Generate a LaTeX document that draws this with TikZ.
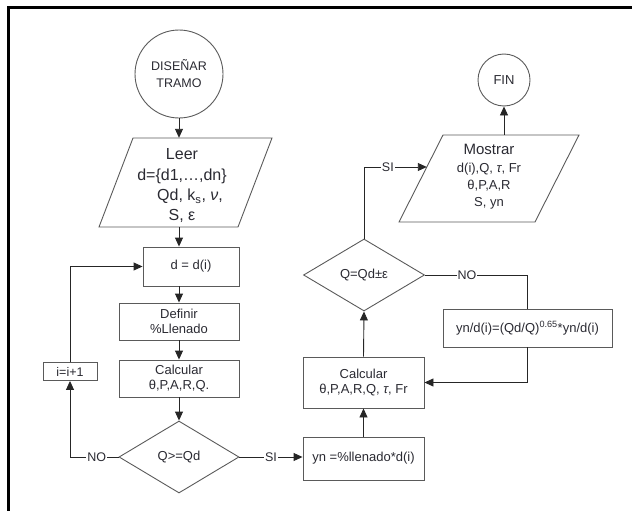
\documentclass[tikz,border=0pt]{standalone}
\usepackage{fontspec}
\setmainfont{Liberation Sans}
\usetikzlibrary{arrows.meta,shapes.geometric}
\definecolor{txt}{HTML}{2A2A32}
\definecolor{edge}{HTML}{5A5A5A}
\tikzset{
  box/.style={draw=edge,line width=0.9pt,rectangle,inner sep=0pt,text=txt,align=center,font=\fontsize{13}{15.5}\selectfont},
  terminal/.style={draw=edge,line width=0.9pt,circle,inner sep=0pt,text=txt,align=center,font=\fontsize{12.5}{17}\selectfont},
  decision/.style={draw=edge,line width=0.9pt,diamond,inner sep=0pt,aspect=1.67,text=txt,font=\fontsize{13}{15}\selectfont},
  iobox/.style={draw=none,rectangle,inner sep=0pt,text=txt,align=center},
  para/.style={draw=edge,line width=0.9pt},
  conn/.style={draw=black!85,line width=0.9pt},
  arr/.style={conn,-{Triangle[length=9pt,width=8pt]}},
  lbl/.style={fill=white,inner sep=1pt,text=txt,font=\fontsize{12.5}{14}\selectfont}
}
\begin{document}
\begin{tikzpicture}[x=1pt,y=-1pt]
\useasboundingbox (0,0) rectangle (632,511);
% frame
\draw[line width=3pt] (8,511) -- (8,8) -- (632,8);

% nodes
\node[terminal,minimum size=88pt] (start) at (179,74) {DISEÑAR\\TRAMO};
\node[iobox,minimum width=173pt,minimum height=89pt] (leer) at (185.5,182.5) {};
\draw[para] (133,138) -- (272,138) -- (238,227) -- (99,227) -- cycle;
\node[text=txt,align=center,font=\fontsize{16}{20}\selectfont] (leerT) at (182,186)
  {Leer\\[1pt] d=\{d1,…,dn\}\\ \hspace*{16pt}Qd, k\textsubscript{s}, \textit{ν},\\ S, ε};

\node[box,minimum width=96pt,minimum height=39pt] (dbox) at (191,266.5) {d = d(i)};
\node[box,minimum width=120pt,minimum height=37pt] (def) at (179,321.5) {Definir\\\%Llenado};
\node[box,minimum width=120pt,minimum height=37pt] (calc1) at (179,378.5) {Calcular\\θ,P,A,R,Q.};
\node[decision,minimum width=120pt,minimum height=72pt] (dia1) at (179,457) {Q>=Qd};
\node[box,minimum width=54pt,minimum height=18pt,font=\fontsize{12.5}{15}\selectfont] (inc) at (70,371.5) {i=i+1};

\node[box,minimum width=121pt,minimum height=43pt] (yn) at (363.5,458.5) {yn =\%llenado*d(i)};
\node[box,minimum width=121pt,minimum height=51pt] (calc2) at (363.5,382.5) {Calcular\\θ,P,A,R,Q, \textit{τ}, Fr};
\node[decision,minimum width=121pt,minimum height=72pt] (dia2) at (364,275) {Q=Qd±ε};
\node[box,minimum width=169pt,minimum height=38pt] (ynd) at (527.5,328) {yn/d(i)=(Qd/Q)\textsuperscript{0.65}*yn/d(i)};

\node[iobox,minimum width=180pt,minimum height=87pt] (most) at (489,178.5) {};
\draw[para] (443,135) -- (579,135) -- (535,222) -- (399,222) -- cycle;
\node[text=txt,align=center,font=\fontsize{13}{17}\selectfont] (mostT) at (489,177)
  {{\fontsize{15}{17}\selectfont Mostrar}\\[1pt] d(i),Q, \textit{τ}, Fr\\ θ,P,A,R\\ S, yn};
\node[terminal,minimum size=52pt,font=\fontsize{13}{15}\selectfont] (fin) at (504,80) {FIN};
\coordinate (mIn) at (426.8,167);

% connectors
\draw[arr] (start.south) -- (start.south |- leer.north);
\draw[arr] (start.south |- leer.south) -- (start.south |- dbox.north);
\draw[arr] (start.south |- dbox.south) -- (def.north);
\draw[arr] (def.south) -- (calc1.north);
\draw[arr] (calc1.south) -- (dia1.north);
\draw[conn] (dia1.west) -- node[lbl,pos=0.45]{NO} (inc.south |- dia1.west);
\draw[arr] (inc.south |- dia1.west) -- (inc.south);
\draw[arr] (inc.north) -- (inc.north |- dbox.west) -- (dbox.west);
\draw[arr] (dia1.east) -- node[lbl]{SI} (dia1.east -| yn.west);
\draw[arr] (yn.north) -- (calc2.south);
\draw[arr] (calc2.north) -- (dia2.south);
\draw[conn] (dia2.east) -- node[lbl,pos=0.41]{NO} (dia2.east -| ynd.north) -- (ynd.north);
\draw[arr] (ynd.south) -- (ynd.south |- calc2.east) -- (calc2.east);
\draw[conn] (dia2.north) -- (dia2.north |- mIn);
\draw[arr] (dia2.north |- mIn) -- node[lbl,pos=0.38]{SI} (mIn);
\draw[arr] (fin.south |- most.north) -- (fin.south);
\end{tikzpicture}
\end{document}
